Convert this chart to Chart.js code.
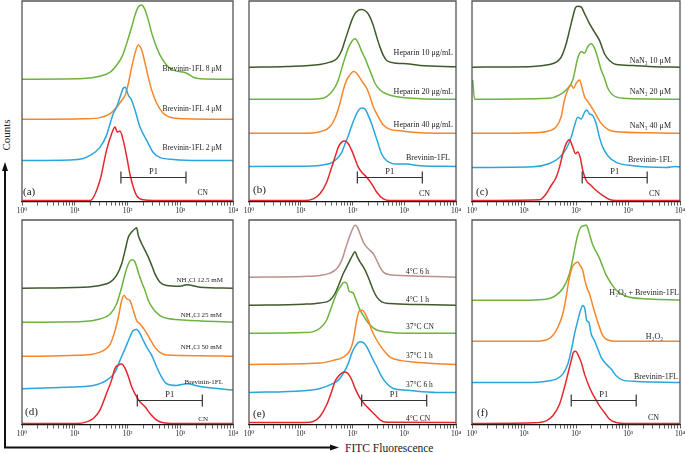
<!DOCTYPE html>
<html><head><meta charset="utf-8">
<script src="https://cdn.jsdelivr.net/npm/chart.js@4.4.0/dist/chart.umd.min.js"></script>
<style>
html,body{margin:0;padding:0;background:#fff;}
body{width:686px;height:453px;position:relative;overflow:hidden;font-family:'Liberation Serif','DejaVu Serif',serif;}
.p{position:absolute;}
.p canvas{display:block;}
svg{position:absolute;left:0;top:0;}
</style></head><body>
<svg width="686" height="453">
<line x1="5" y1="447.5" x2="5" y2="169" stroke="#111" stroke-width="2"/>
<polygon points="5,162 2,171 8,171" fill="#111"/>
<line x1="4" y1="447.5" x2="332" y2="447.5" stroke="#111" stroke-width="2"/>
<polygon points="339,447.5 330,444.5 330,450.5" fill="#111"/>
<text x="10" y="135" transform="rotate(-90 10 135)" text-anchor="middle" font-family="Liberation Serif, DejaVu Serif, serif" font-size="11" fill="#222">Counts</text>
<text x="345" y="452" font-family="Liberation Serif, DejaVu Serif, serif" font-size="11.5" fill="#222">FITC Fluorescence</text>
</svg>
<div class="p" id="pa"><canvas></canvas></div>
<div class="p" id="pb"><canvas></canvas></div>
<div class="p" id="pc"><canvas></canvas></div>
<div class="p" id="pd"><canvas></canvas></div>
<div class="p" id="pe"><canvas></canvas></div>
<div class="p" id="pf"><canvas></canvas></div>
<script>
// ---------- axis ticks ----------
const TICK_VALUES = [1,2,3,4,5,6,7,8,9,10,20,30,40,50,60,70,80,90,100,200,300,400,500,600,700,800,900,1000,2000,3000,4000,5000,6000,7000,8000,9000,10000];
const MAJOR_TICKS = [1,10,100,1000,10000];
const MAJOR_LABELS = ['10\u2070','10\u00b9','10\u00b2','10\u00b3','10\u2074'];

// ---------- series: [FITC fluorescence, counts above own baseline] ----------
// Panel (a)
const namesA = ['Brevinin-1FL 8 μM','Brevinin-1FL 4 μM','Brevinin-1FL 2 μM','CN'];
const A_CN = [[1,0],[19.5,0],[30,20],[40,50],[50,66.7],[58,73.3],[64,68.3],[72,69.3],[83,60],[97,43.3],[111,26.7],[129,13.3],[149,5],[199,0.7],[308,0],[10000,0]];
const A_2uM = [[1,0],[8,0.5],[14.5,2],[19.5,5],[30,13],[40,25],[47,37],[54,47],[62,53],[72,63],[83,72],[90,73],[104,65],[120,60],[139,50],[173,33],[231,20],[308,8],[413,3],[738,1],[2367,0],[10000,0]];
const A_4uM = [[1,0],[15,0.5],[30,1.7],[47,5.7],[62,12],[78,19],[90,24],[104,36],[120,52],[139,66],[160,74],[186,69],[215,56],[248,42],[288,29],[358,16],[477,6],[640,2],[1200,0.5],[10000,0]];
const A_8uM = [[1,0],[14.5,0.7],[30,3],[47,7],[62,14],[78,22],[97,36],[120,52],[139,64],[160,72],[186,74],[215,69],[248,59],[288,46],[332,36],[413,24],[554,14],[738,9],[1325,6],[1767,2],[2367,0.5],[10000,0]];
const gateA = [75,1285];

// Panel (b)
const namesB = ['Heparin 10 μg/mL','Heparin 20 μg/mL','Heparin 40 μg/mL','Brevinin-1FL','CN'];
const B_CN = [[1,0],[12,0],[17.5,1.7],[23.5,6.7],[31.7,18.3],[39.6,33.3],[45.9,43.3],[53.2,53.3],[61.8,58.3],[71.6,59.3],[83,56.7],[96.6,50],[111.7,41.7],[129.4,33.3],[150.6,28.3],[188,23.3],[235,16.7],[294,8.3],[394,1.7],[531,0],[10000,0]];
const B_Brev = [[1,0],[11.2,0.3],[36.7,3],[49.5,7.4],[61.8,14],[71.6,22.4],[83,30.7],[96.6,40.7],[111.7,49],[129.4,55.7],[150.6,58.4],[174.5,57.4],[202,50.7],[235,42.4],[272,32.4],[315,22.4],[366,12.4],[458,5.7],[714,2.4],[1114,2.4],[2014,0.7],[10000,0]];
const B_H40 = [[1,0],[10,0],[23.5,1.7],[36.7,6.7],[45.9,15],[57.3,30],[66.4,43.3],[77.3,53.3],[89.5,58.3],[103.5,61.6],[120.5,60],[139.6,55],[161.7,50],[188,45],[218,36.6],[252,26.6],[315,16.6],[394,8.3],[531,4],[827,2.6],[2014,0.6],[10000,0]];
const B_H20 = [[1,0],[10,0],[23.5,0.6],[31.7,2.6],[42.6,9.3],[53.2,19.3],[66.4,36],[83,51],[96.6,57.6],[111.7,60.3],[129.4,56],[150.6,47.6],[174.5,41],[202,32.6],[235,24.3],[272,16],[340,9.3],[458,5.3],[714,2.6],[2014,0.6],[10000,0]];
const B_H10 = [[1,0],[5.3,0.7],[23.5,2.7],[36.7,5],[49.5,8.4],[61.8,16.7],[71.6,26.7],[83,36.7],[96.6,46.7],[111.7,53.4],[129.4,56.7],[150.6,57.4],[188,55],[218,50],[252,41.7],[294,30],[340,20],[394,11.7],[458,6.7],[714,4],[1114,3.4],[2014,1.7],[10000,0.5]];
const gateB = [124,2234];

// Panel (c)
const namesC = ['NaN\u2083 10 μM','NaN\u2083 20 μM','NaN\u2083 40 μM','Brevinin-1FL','CN'];
const C_CN = [[1,0],[19.9,0.7],[26.7,6.7],[33.3,15],[41.6,23.3],[48.2,33.3],[55.7,46.7],[64.7,56.7],[75,60.7],[86.7,53.3],[97.8,46.7],[108,48.3],[120,43.3],[135,30],[157,20],[196,15],[245,10],[328,5],[441,1],[593,0],[10000,0]];
const C_Brev = [[1,0],[14.8,0.7],[30.9,4],[48.2,10],[64.7,18.4],[80.9,30],[93.6,41.7],[108,50],[126,48.4],[146,55],[161,57.4],[182,53.4],[210,51.7],[245,43.4],[283,30],[328,20],[409,11.7],[593,5],[1237,1.7],[5430,0],[8000,1],[10000,0.5]];
const C_N40 = [[1,0],[14.8,0.6],[30.9,2.6],[41.6,6.6],[51.9,16.6],[60,33.3],[69.6,43.3],[80.9,48.3],[89.5,45],[100.8,50],[117,53.3],[131.5,45],[146,36.6],[169,31.6],[196,26.6],[245,18.3],[305,10],[409,4],[593,1.6],[2590,0.6],[10000,0]];
const C_N20 = [[1.03,19.3],[1.12,0],[30.9,1],[48.2,4.3],[64.7,9.3],[86.7,19.3],[108,41],[126,47.6],[146,46],[169,52.6],[196,55.3],[227,51],[263,41],[305,29.3],[353,21],[409,11],[510,4.3],[794,1],[2590,0.3],[10000,0]];
const C_N10 = [[1,0],[14.8,0.7],[30.9,2.7],[41.6,5],[51.9,10],[64.7,23.4],[75,36.7],[86.7,50],[97.8,59.4],[108,60.7],[126,60],[146,53.4],[182,43.4],[227,35],[283,26.7],[353,13.4],[441,6.7],[593,2.7],[1237,1.7],[2590,0.7],[10000,0]];
const gateC = [131.6,2340];

// Panel (d)
const namesD = ['NH\u2084Cl 12.5 mM','NH\u2084Cl 25 mM','NH\u2084Cl 50 mM','Brevinin-1FL','CN'];
const D_CN = [[1,0],[11,0],[16.8,1.7],[22.5,5],[30,13.3],[40,30],[50,43.3],[58,55],[67,58.3],[77.6,59.3],[90,55],[104,46.7],[120,36.7],[149,26.7],[173,21.7],[215,16.7],[267,10],[358,3.3],[477,0.7],[800,0],[10000,0]];
const D_Brev = [[1,1.7],[7,3.3],[22.5,5],[40,10],[58,18.3],[72,30],[90,41.7],[111,53.3],[129,60],[149,60.7],[173,56.7],[199,50],[231,43.3],[288,35],[358,23.3],[445,13.3],[554,6.7],[857,5],[1325,6.7],[2367,4],[8770,0.7],[10000,0.5]];
const D_N50 = [[1,0],[10.9,1],[22.5,2.3],[34.8,5.7],[47,12.3],[58,25.7],[67,39],[77.6,55.7],[85.8,60.7],[97,57.3],[111,55.7],[129,45.7],[149,35.7],[173,32.3],[215,25.7],[267,17.3],[332,9],[413,4],[554,1.3],[2367,0.7],[10000,0]];
const D_N25 = [[1,0],[14.5,0.7],[30,3.3],[47,8.3],[62,18.3],[77.6,35],[93.7,51.7],[111,61],[125,62.3],[139,60],[160,50],[186,40],[215,31.7],[248,21.7],[308,13.3],[413,6.7],[554,4],[1143,2.3],[10000,0]];
const D_N12 = [[1,0],[14.5,1],[30,2.7],[47,6],[62,12.7],[77.6,24.3],[90,37.7],[104,51],[120,56],[139,59.3],[149,60.3],[160,52.7],[186,44.3],[215,37.7],[248,31],[288,22.7],[332,14.3],[413,6],[554,2.7],[988,2],[1325,3.3],[2367,1],[10000,0]];
const gateD = [153.5,2620];

// Panel (e)
const namesE = ['4°C 6 h','4°C 1 h','37°C CN','37°C 1 h','37°C 6 h','4°C CN'];
const E_4CN = [[1,0],[12,0],[17.5,1],[23.5,6],[31.7,17.7],[39.6,31],[45.9,41],[53.2,46],[61.8,49.3],[71.6,50.3],[83,48.3],[96.6,42.7],[111.7,34.3],[139.6,24.3],[174.5,17.7],[218,12.7],[272,7.7],[340,2.7],[458,0.3],[10000,0]];
const E_37_6h = [[1,0],[11.2,1.7],[23.5,4],[42.6,9],[53.2,12.3],[66.4,19],[83,29],[96.6,39],[111.7,45.7],[139.6,50.7],[161.7,49.7],[188,45.7],[218,39],[252,32.3],[294,25.7],[366,15.7],[458,9],[615,4],[1114,2.3],[4240,0],[10000,0]];
const E_37_1h = [[1,0],[23.5,1.3],[42.6,4],[66.4,7.3],[89.5,14],[103.5,24],[120.5,44],[135.4,53.3],[157.5,54],[174.5,50.7],[202,44],[235,34],[272,27.3],[340,19],[425,12.3],[531,7.3],[827,4],[1497,2.3],[4240,0.7],[10000,0]];
const E_37CN = [[1,0],[11.2,0.7],[17.5,1.7],[23.5,5],[31.7,13.3],[39.6,26.7],[49.5,40],[59,46.7],[68.5,51],[77.3,50],[86.7,41.7],[100.7,40.7],[117,33.3],[139.6,23.3],[174.5,15],[218,8.3],[294,3.3],[458,1.3],[1000,0],[10000,0]];
const E_4_1h = [[1,0],[11.2,1],[23.5,2.3],[36.7,5],[45.9,11.7],[55.6,21.7],[66.4,31.7],[77.3,38.3],[89.5,45],[100.7,50],[111.7,53.3],[124,48.3],[139.6,43.3],[161.7,38.3],[188,31.7],[218,23.3],[252,15],[294,8.3],[366,3.3],[531,1.7],[2014,0.7],[10000,0]];
const E_4_6h = [[1,0],[11.2,0.7],[23.5,1.7],[36.7,4],[49.5,8.3],[61.8,16.7],[74.9,30],[89.5,41.7],[100.7,48.3],[111.7,51.7],[124,50],[139.6,43.3],[161.7,35],[188,30],[218,26.7],[252,23.3],[294,16.7],[340,10],[394,5],[531,2.3],[2014,1],[10000,0]];
const gateE = [150.6,2716];

// Panel (f)
const namesF = ['H\u2082O\u2082 + Brevinin-1FL','H\u2082O\u2082','Brevinin-1FL','CN'];
const F_CN = [[1,0],[14.8,0.7],[26.7,2.7],[35.8,7.7],[48.2,19.3],[60,36],[69.6,49.3],[80.9,62.7],[89.5,71],[97.8,72],[108,69.3],[126,61],[146,49.3],[182,36],[227,26],[283,17.7],[353,11],[441,4.3],[593,1],[1000,0],[10000,0]];
const F_Brev = [[1,0],[14.8,0],[30.9,1.7],[41.6,3.3],[55.7,8.3],[69.6,18.3],[80.9,31.7],[93.6,48.3],[108,61.7],[122,71.7],[135,76.7],[148,73.3],[161,61.7],[176.6,60],[196,48.3],[227,41.7],[263,33.3],[305,25],[381,18.3],[475,13.3],[593,6.7],[794,2.3],[1438,1],[10000,0]];
const F_H2O2 = [[1,0],[14.8,0],[26.7,1.3],[35.8,5.7],[44.8,14],[55.7,27.3],[64.7,44],[72.8,60.7],[84.5,74],[97.8,78],[108,79],[120,75.7],[135,70.7],[146,62.3],[161,54],[182,47.3],[210,35.7],[245,24],[283,14],[328,5.7],[409,1.3],[593,0],[10000,0]];
const F_H2O2Brev = [[1,0],[12,0],[23,0.7],[30.9,1.7],[41.6,5],[55.7,11.7],[69.6,21.7],[80.9,33.3],[93.6,50],[108,65],[126,73.3],[139.4,74],[157,75],[169,71.7],[187.6,63.3],[210,55],[245,48.3],[283,41.7],[328,33.3],[381,25],[475,16.7],[593,10],[923,4],[2590,1.3],[10000,0.3]];
const gateF = [80.9,1438];

// ---------- styles & layout ----------
const COLORS = {red:'#e5262c', blue:'#2ba5de', orange:'#f5862a', green:'#6db33f', dark:'#3e5a2b', rose:'#bc908c'};
const FONT = '"Liberation Serif","DejaVu Serif",serif';
const P1_LEVEL = 24;

const panels = [
 {el:'pa', box:[22,233,1,201], series:[[A_CN,'red',1],[A_2uM,'blue',41],[A_4uM,'orange',82],[A_8uM,'green',122]],
  names:namesA, pos:[[132,'r',11],[92,'r',11],[53,'r',11],[8,'r',25]], fs:7.5, gate:gateA, tag:'(a)', tagPos:[1,9]},
 {el:'pb', box:[249,456,1,201], series:[[B_CN,'red',1],[B_Brev,'blue',35],[B_H40,'orange',68],[B_H20,'green',102],[B_H10,'dark',134]],
  names:namesB, pos:[[148,'r',3],[109,'r',3],[76,'r',3],[44,'r',6],[8,'r',26]], fs:8, gate:gateB, tag:'(b)', tagPos:[4,11]},
 {el:'pc', box:[472,680,1,201], series:[[C_CN,'red',1],[C_Brev,'blue',34],[C_N40,'orange',68],[C_N20,'green',102],[C_N10,'dark',134]],
  names:namesC, pos:[[140,'r',9],[109,'r',9],[75,'r',9],[42,'r',8],[8,'r',20]], fs:8, gate:gateC, tag:'(c)', tagPos:[4,9]},
 {el:'pd', box:[22,233,220,424], series:[[D_CN,'red',1],[D_Brev,'blue',34],[D_N50,'orange',68],[D_N25,'green',102],[D_N12,'dark',136]],
  names:namesD, pos:[[144,'r',10],[109,'r',11],[77,'r',11],[42,'r',10],[5,'r',25]], fs:7, gate:gateD, tag:'(d)', tagPos:[3,12]},
 {el:'pe', box:[249,456,220,424], series:[[E_4CN,'red',2],[E_37_6h,'blue',32],[E_37_1h,'orange',60],[E_37CN,'green',91],[E_4_1h,'dark',119],[E_4_6h,'rose',147]],
  names:namesE, pos:[[152,'l',157],[124,'l',157],[97,'l',157],[68,'l',157],[39,'l',157],[6,'l',157]], fs:7.5, gate:gateE, tag:'(e)', tagPos:[4,10]},
 {el:'pf', box:[472,680,220,424], series:[[F_CN,'red',1],[F_Brev,'blue',42],[F_H2O2,'orange',83],[F_H2O2Brev,'green',124]],
  names:namesF, pos:[[131,'r',1],[87,'r',17],[48,'r',2],[7,'r',21]], fs:8, gate:gateF, tag:'(f)', tagPos:[5,11]}
];

const framePlugin = {
  id:'frame',
  afterDatasetsDraw(chart){
    const {ctx, chartArea:a} = chart;
    ctx.save(); ctx.strokeStyle='#555'; ctx.lineWidth=1.3;
    ctx.beginPath(); ctx.moveTo(a.left, a.bottom); ctx.lineTo(a.left, a.top); ctx.lineTo(a.right, a.top); ctx.lineTo(a.right, a.bottom); ctx.stroke();
    ctx.restore();
  }
};

function textPlugin(p){
  return {
    id:'panelText',
    afterDatasetsDraw(chart){
      const {ctx, chartArea:a, scales:{x,y}} = chart;
      ctx.save(); ctx.fillStyle='#222'; ctx.textBaseline='middle';
      ctx.font = p.fs + 'px ' + FONT;
      p.names.forEach((t,i)=>{
        const [yy, side, gap] = p.pos[i];
        if (side === 'r') { ctx.textAlign='right'; ctx.fillText(t, a.right-gap, y.getPixelForValue(yy)); }
        else { ctx.textAlign='left'; ctx.fillText(t, a.left+gap, y.getPixelForValue(yy)); }
      });
      const x1 = x.getPixelForValue(p.gate[0]), x2 = x.getPixelForValue(p.gate[1]);
      ctx.textAlign='center'; ctx.font='8.5px ' + FONT;
      ctx.fillText('P1', (x1+x2)/2, y.getPixelForValue(P1_LEVEL)-6);
      ctx.textAlign='left'; ctx.font='11px ' + FONT;
      ctx.fillText(p.tag, a.left+p.tagPos[0], y.getPixelForValue(p.tagPos[1]));
      ctx.restore();
    }
  };
}

function makeChart(p){
  const div = document.getElementById(p.el);
  const [L,R,T,B] = p.box;
  Object.assign(div.style,{left:(L-8)+'px', top:(T-1)+'px', width:(R-L+16)+'px', height:(B-T+18)+'px'});
  const datasets = [{
    data: p.gate.map(v=>({x:v, y:P1_LEVEL})), borderColor:'#333', borderWidth:1.2,
    pointStyle:'line', rotation:90, pointRadius:6, pointHoverRadius:6, pointBorderColor:'#333', pointBorderWidth:1.2
  }];
  p.series.forEach(([pts,col,base])=>datasets.push({
    data: pts.map(([fx,h])=>({x:fx, y:h+base})), borderColor:COLORS[col], borderWidth:1.5,
    pointRadius:0, pointHoverRadius:0, cubicInterpolationMode:'monotone', fill:false
  }));
  new Chart(div.querySelector('canvas'), {
    type:'line', data:{datasets},
    options:{
      responsive:true, maintainAspectRatio:false, animation:false, devicePixelRatio:1,
      layout:{autoPadding:false, padding:{left:8,right:8,top:1,bottom:2.2}},
      plugins:{legend:{display:false}, tooltip:{enabled:false}},
      events:[],
      scales:{
        x:{type:'logarithmic', min:1, max:10000,
           afterBuildTicks:(s)=>{ s.ticks = TICK_VALUES.map(v=>({value:v})); },
           ticks:{autoSkip:false, maxRotation:0, minRotation:0, padding:1, color:'#222', font:{family:FONT, size:7.5, lineHeight:1.1},
                  callback:(v)=>{ const i = MAJOR_TICKS.indexOf(v); return i>=0 ? MAJOR_LABELS[i] : ''; }},
           grid:{drawOnChartArea:false, drawTicks:true, tickLength:4, color:'#333', lineWidth:0.8},
           border:{display:true, color:'#111', width:1.2}},
        y:{display:false, min:0, max:(B-T)}
      }
    },
    plugins:[framePlugin, textPlugin(p)]
  });
}
panels.forEach(makeChart);
</script>
</body></html>
